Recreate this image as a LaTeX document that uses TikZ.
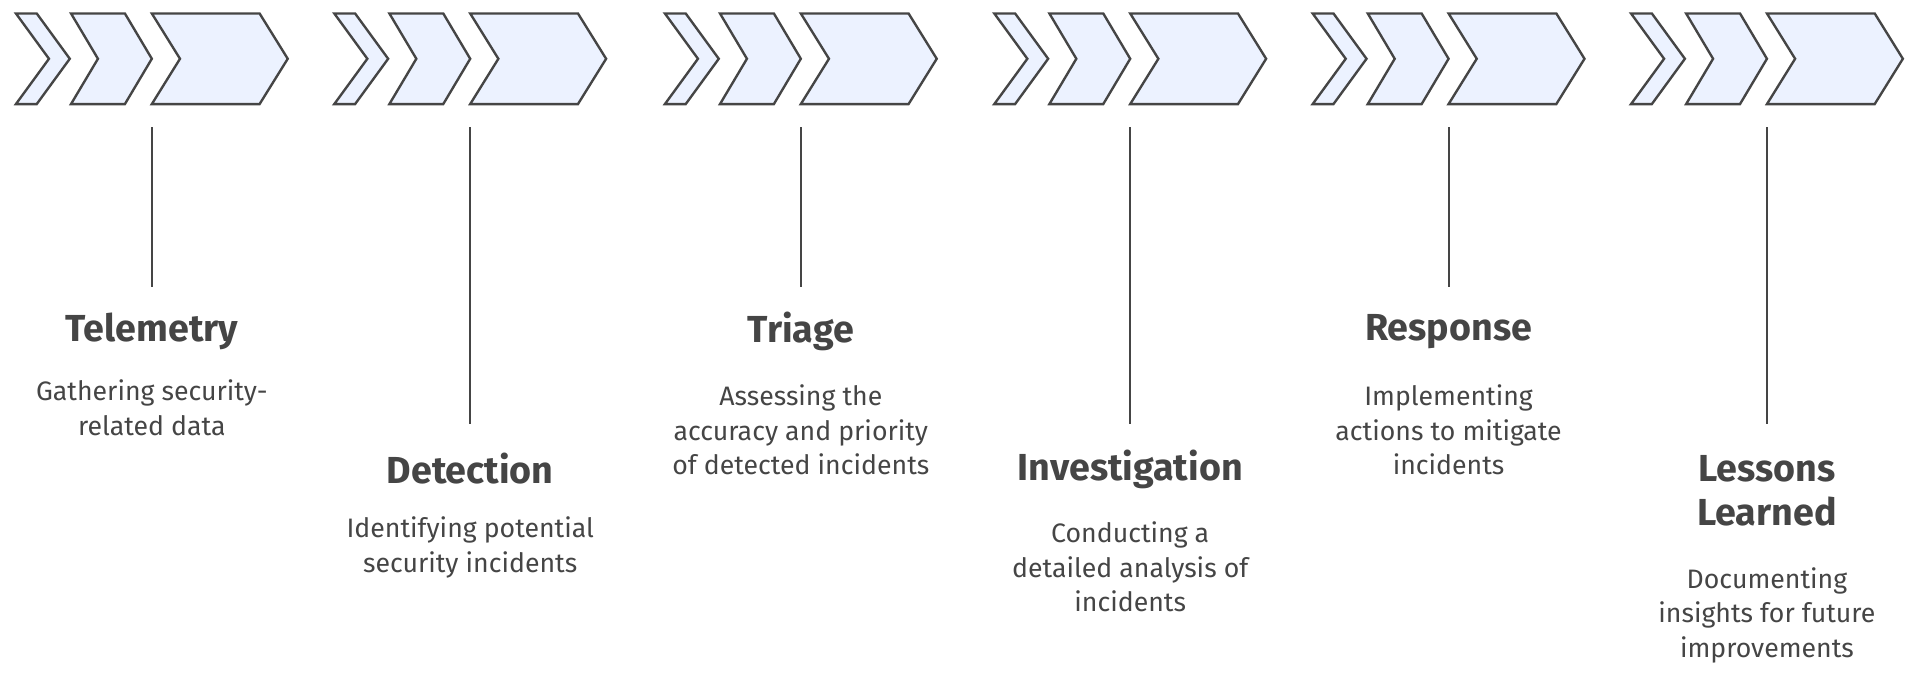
\documentclass[tikz,border=0pt]{standalone}
\usepackage{fontspec}
\setmainfont{Fira Sans}
\usetikzlibrary{positioning}
\definecolor{chevfill}{HTML}{ECF2FF}
\definecolor{inkgray}{HTML}{454545}
\tikzset{
  chev/.style={draw=inkgray, fill=chevfill, line width=1.1pt, line join=miter},
  stem/.style={draw=inkgray, line width=1pt},
  ttl/.style={font=\fontsize{17.5}{20.5}\selectfont\bfseries, text=inkgray, align=center, inner sep=0pt},
  dsc/.style={font=\fontsize{12.4}{16}\selectfont, text=inkgray, align=center, inner sep=0pt, anchor=north}
}
\begin{document}
\begin{tikzpicture}[x=0.02cm, y=-0.02cm]
  \useasboundingbox (0,0) rectangle (1568,563);
  % chevron groups, stems and labels
  \foreach \cx/\ty/\dy/\ly/\name/\ttext/\dtext in {
      124/271/310/234/tel/Telemetry/{Gathering security-\\related data},
      384/383/422/346/det/Detection/{Identifying potential\\security incidents},
      654/271/314/234/tri/Triage/{Assessing the\\accuracy and priority\\of detected incidents},
      923/383/426/346/inv/Investigation/{Conducting a\\detailed analysis of\\incidents},
      1183/271/314/234/res/Response/{Implementing\\actions to mitigate\\incidents},
      1443/401/463/346/les/{Lessons\\Learned}/{Documenting\\insights for future\\improvements}}{
    \begin{scope}[shift={(\cx-111,0)}]
      \draw[chev] (0,11) -- (17,11) -- (44,48) -- (17,85) -- (0,85) -- (27,48) -- cycle;
      \draw[chev] (45,11) -- (89,11) -- (111,48) -- (89,85) -- (45,85) -- (67,48) -- cycle;
      \draw[chev] (111,11) -- (199,11) -- (222,48) -- (199,85) -- (111,85) -- (134,48) -- cycle;
    \end{scope}
    \coordinate (\name-top) at (\cx,104);
    \coordinate (\name-end) at (\cx,\ly);
    \node[ttl] (\name-title) at (\cx,\ty) {\ttext};
    \node[dsc] (\name-text) at (\cx,\dy) {\dtext};
    \draw[stem] (\name-top) -- (\name-end);
  }
\end{tikzpicture}
\end{document}
